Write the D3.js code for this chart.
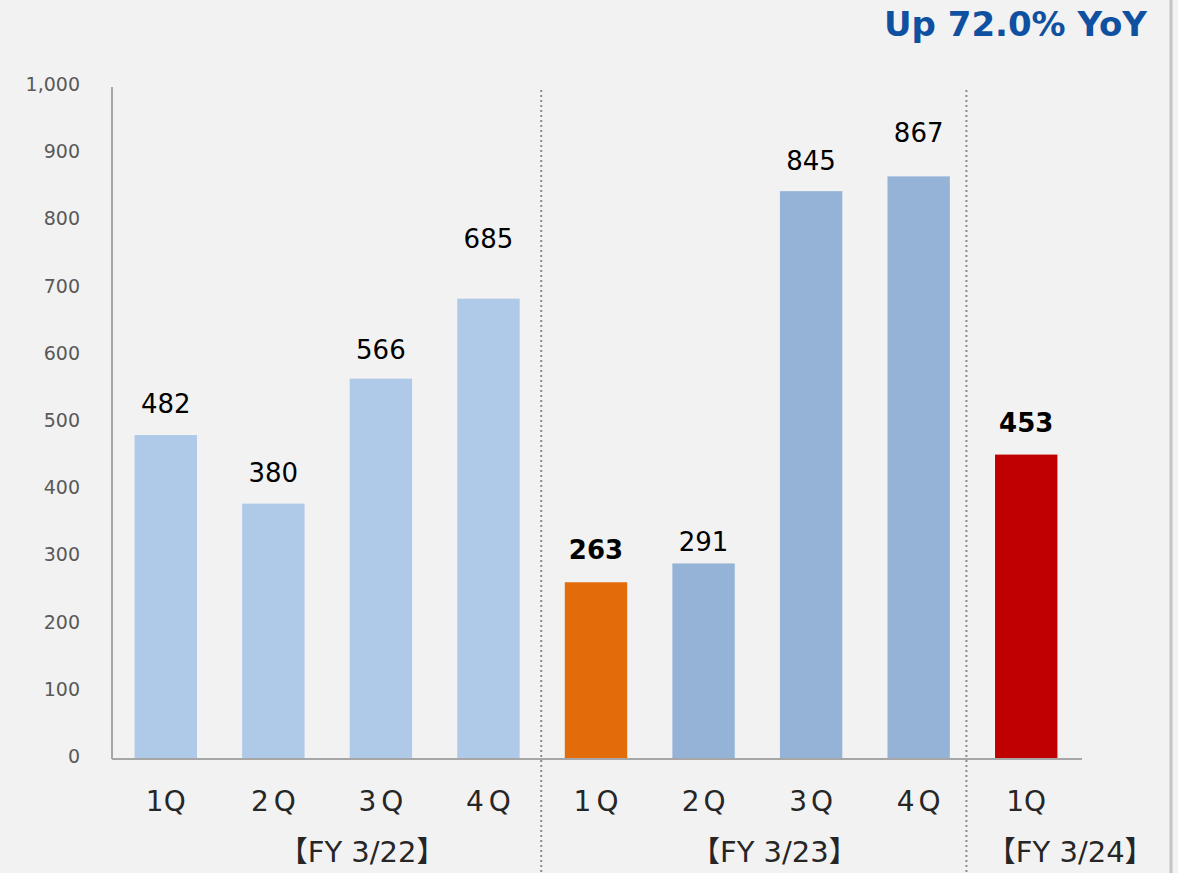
<!DOCTYPE html>
<html>
<head>
<meta charset="utf-8">
<script src="https://cdn.jsdelivr.net/npm/d3@7"></script>
<style>
  body { margin: 0; background: #f2f2f2; }
  text { font-family: "DejaVu Sans", Verdana, "Noto Sans CJK JP", sans-serif; }
</style>
</head>
<body>
<div id="chart"></div>
<script>
// data
const quarters = ["1Q", "2Q", "3Q", "4Q", "1Q", "2Q", "3Q", "4Q", "1Q"];
const values = [482, 380, 566, 685, 263, 291, 845, 867, 453];
const fiscalYears = ["【FY 3/22】", "【FY 3/23】", "【FY 3/24】"];
const yearOfBar = [0, 0, 0, 0, 1, 1, 1, 1, 2];
const yTicks = [0, 100, 200, 300, 400, 500, 600, 700, 800, 900, 1000];
const headline = "Up 72.0% YoY";

let width = 1178,
    height = 873;

const plotLeft = 112, plotRight = 1080, plotTop = 87, plotBottom = 759;

const barColors = ["#afc9e8", "#afc9e8", "#afc9e8", "#afc9e8",
                   "#e36c0a", "#95b3d7", "#95b3d7", "#95b3d7", "#c00000"];
const boldLabel = [false, false, false, false, true, false, false, false, true];
const labelLift = [22, 22, 20, 51, 23, 12, 21, 34, 23];   // hand placed in the original
const qSpacing = [0, 5, 5, 5, 5, 4, 4, 4, 0];
const fyShift = [35, 17, 44];

let svg = d3.select("#chart")
  .append("svg")
  .attr("width", width)
  .attr("height", height);

svg.append("rect").attr("width", width).attr("height", height).attr("fill", "#f2f2f2");

// right edge border
svg.append("line")
  .attr("x1", 1171).attr("x2", 1171).attr("y1", 0).attr("y2", height)
  .attr("stroke", "#c4c4c4").attr("stroke-width", 3);

let x = d3.scaleBand()
  .domain(d3.range(values.length))
  .range([plotLeft, plotRight])
  .paddingInner(0.42)
  .paddingOuter(0.21);

let y = d3.scaleLinear()
  .domain([0, 1000])
  .range([plotBottom, plotTop]);

// y tick labels
svg.append("g")
  .selectAll("text")
  .data(yTicks)
  .join("text")
  .attr("x", 80)
  .attr("y", d => y(d) + 4)
  .attr("text-anchor", "end")
  .style("font-size", "19px")
  .style("fill", "#595959")
  .text(d => d3.format(",")(d));

// bars
svg.append("g")
  .selectAll("rect")
  .data(values)
  .join("rect")
  .attr("x", (d, i) => x(i))
  .attr("y", d => y(d))
  .attr("width", x.bandwidth())
  .attr("height", d => plotBottom - y(d))
  .attr("fill", (d, i) => barColors[i]);

// axis lines
svg.append("line")
  .attr("x1", plotLeft).attr("x2", plotLeft).attr("y1", plotTop).attr("y2", plotBottom)
  .attr("stroke", "#a6a6a6").attr("stroke-width", 2);
svg.append("line")
  .attr("x1", plotLeft).attr("x2", plotRight + 2).attr("y1", plotBottom).attr("y2", plotBottom)
  .attr("stroke", "#a6a6a6").attr("stroke-width", 2);

// dotted separators between fiscal years
const sepIdx = [4, 8];
const sepNudge = [1, 6];
svg.append("g")
  .selectAll("line")
  .data(sepIdx)
  .join("line")
  .attr("x1", (d, i) => (x(d - 1) + x.bandwidth() + x(d)) / 2 - sepNudge[i])
  .attr("x2", (d, i) => (x(d - 1) + x.bandwidth() + x(d)) / 2 - sepNudge[i])
  .attr("y1", 90).attr("y2", height)
  .attr("stroke", "#8c8c8c")
  .attr("stroke-width", 2)
  .attr("stroke-dasharray", "2,3");

// value labels
svg.append("g")
  .selectAll("text")
  .data(values)
  .join("text")
  .attr("x", (d, i) => x(i) + x.bandwidth() / 2)
  .attr("y", (d, i) => y(d) - labelLift[i])
  .attr("text-anchor", "middle")
  .style("font-size", "26px")
  .style("font-weight", (d, i) => boldLabel[i] ? "bold" : "normal")
  .style("fill", "#000")
  .text(d => d);

// quarter labels
svg.append("g")
  .selectAll("text")
  .data(quarters)
  .join("text")
  .attr("x", (d, i) => x(i) + x.bandwidth() / 2 + qSpacing[i] / 2)
  .attr("y", 811)
  .attr("text-anchor", "middle")
  .style("font-size", "28px")
  .style("letter-spacing", (d, i) => qSpacing[i] + "px")
  .style("fill", "#262626")
  .text(d => d);

// fiscal year labels
svg.append("g")
  .selectAll("text")
  .data(fiscalYears)
  .join("text")
  .attr("x", (d, i) => {
    let idx = d3.range(values.length).filter(j => yearOfBar[j] == i);
    let cx = (x(idx[0]) + x(idx[idx.length - 1]) + x.bandwidth()) / 2;
    return cx + fyShift[i];
  })
  .attr("y", 862)
  .attr("text-anchor", "middle")
  .style("font-size", "29px")
  .style("fill", "#262626")
  .text(d => d);

// headline
svg.append("text")
  .attr("x", 1147)
  .attr("y", 36)
  .attr("text-anchor", "end")
  .style("font-size", "34px")
  .style("font-weight", "bold")
  .style("fill", "#1050a0")
  .text(headline);
</script>
</body>
</html>
